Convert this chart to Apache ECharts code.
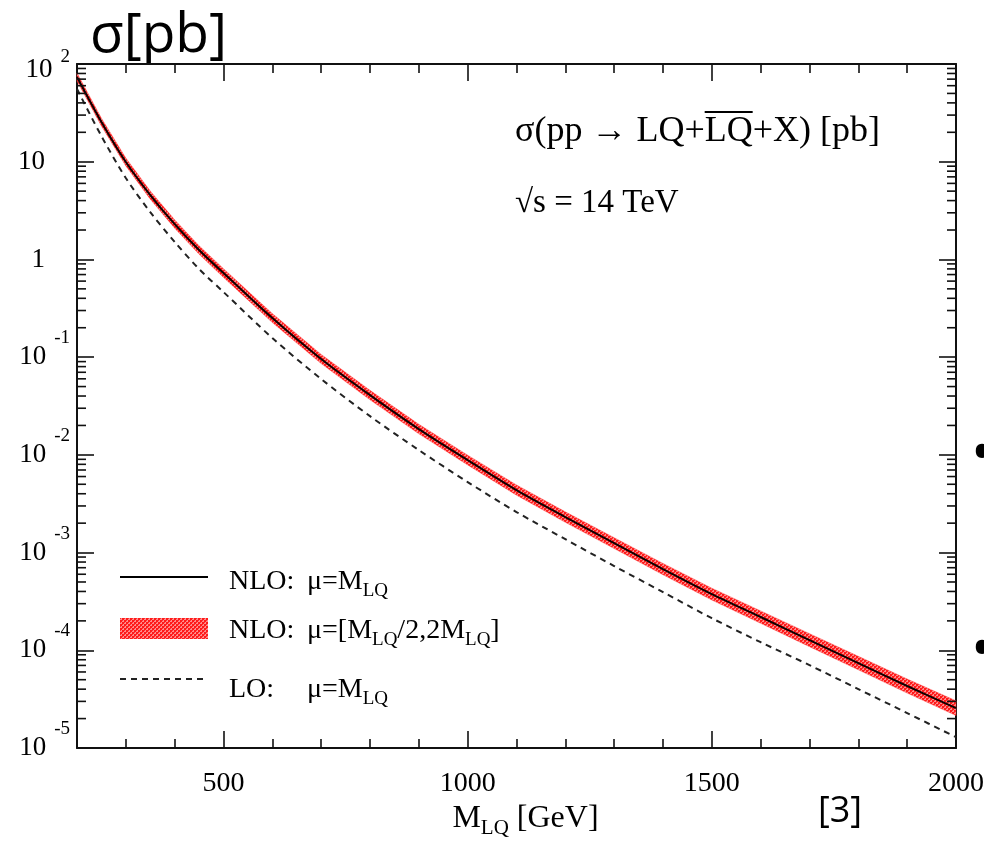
<!DOCTYPE html>
<html><head><meta charset="utf-8">
<script src="https://cdn.jsdelivr.net/npm/echarts@6/dist/echarts.min.js"></script>
<style>html,body{margin:0;padding:0;background:#fff}#c{width:984px;height:842px}</style>
</head><body><div id="c"></div>
<script>
// ---- data ----
const masses  = [200, 250, 300, 350, 400, 450, 500, 600, 700, 800, 900, 1000, 1100, 1200, 1300, 1400, 1500, 1600, 1700, 1800, 1900, 2000];
const nlo     = [73.6, 25.5, 9.93, 4.56, 2.30, 1.25, 0.726, 0.251, 0.0957, 0.0409, 0.01837, 8.85e-3, 4.36e-3, 2.31e-3, 1.25e-3, 6.78e-4, 3.76e-4, 2.19e-4, 1.27e-4, 7.39e-5, 4.31e-5, 2.56e-5];
const nloUp   = [80.7, 27.9, 10.9, 5.02, 2.54, 1.38, 0.805, 0.279, 0.1067, 0.0457, 0.02056, 9.93e-3, 4.92e-3, 2.61e-3, 1.42e-3, 7.74e-4, 4.32e-4, 2.53e-4, 1.48e-4, 8.67e-5, 5.08e-5, 3.04e-5];
const nloDown = [67.1, 23.2, 9.06, 4.14, 2.09, 1.13, 0.655, 0.226, 0.0859, 0.0366, 0.01641, 7.89e-3, 3.87e-3, 2.04e-3, 1.10e-3, 5.93e-4, 3.27e-4, 1.89e-4, 1.09e-4, 6.31e-5, 3.65e-5, 2.15e-5];
const lo      = [55.5, 18.3, 6.81, 3.05, 1.51, 0.798, 0.464, 0.157, 0.0597, 0.0249, 0.01119, 5.27e-3, 2.60e-3, 1.37e-3, 7.28e-4, 3.94e-4, 2.13e-4, 1.21e-4, 7.05e-5, 4.01e-5, 2.28e-5, 1.29e-5];

const xRange = [200, 2000];
const xMajorTicks = [500, 1000, 1500, 2000];
const xMinorTicks = [300, 400, 600, 700, 800, 900, 1100, 1200, 1300, 1400, 1600, 1700, 1800, 1900];
const yDecadeExps = [-5, -4, -3, -2, -1, 0, 1, 2];
const yMinorMultipliers = [2, 3, 4, 5, 6, 7, 8, 9];
const yMinorTicks = [];
yDecadeExps.slice(0, -1).forEach(e => yMinorMultipliers.forEach(k => yMinorTicks.push(k * Math.pow(10, e))));

const SERIF = '"Liberation Serif", "Times New Roman", serif';
const SANS = '"Open Sans", "Noto Sans", sans-serif';
const INK = '#111';

// speckled red fill like the hatched band
const pc = document.createElement('canvas');
pc.width = 4; pc.height = 4;
const pctx = pc.getContext('2d');
pctx.fillStyle = '#ff8c8c'; pctx.fillRect(0, 0, 4, 4);
pctx.fillStyle = '#ff1a1a'; pctx.fillRect(0, 0, 2, 2); pctx.fillRect(2, 2, 2, 2);
pctx.fillStyle = '#ff3030'; pctx.fillRect(2, 0, 1, 1); pctx.fillRect(0, 2, 1, 1);
const bandFill = {image: pc, repeat: 'repeat'};

const chart = echarts.init(document.getElementById('c'), null, {renderer: 'canvas'});

function xAxisDef(pos, ticks, len, main) {
  return {
    type: 'value', min: xRange[0], max: xRange[1], position: pos,
    axisLine: {show: main, onZero: false, lineStyle: {color: INK, width: 2}},
    axisTick: {show: true, inside: true, length: len, customValues: ticks, lineStyle: {color: INK, width: 1.6}},
    axisLabel: (main && pos === 'bottom') ? {show: true, customValues: xMajorTicks, margin: 22,
      fontSize: 28, fontFamily: SERIF, color: '#000', formatter: v => String(v)} : {show: false},
    splitLine: {show: false}
  };
}
const xAxes = [
  xAxisDef('bottom', xMajorTicks, 17, true),
  xAxisDef('bottom', xMinorTicks, 9, false),
  xAxisDef('top', xMajorTicks, 17, true),
  xAxisDef('top', xMinorTicks, 9, false)
];
xAxes[0].name = '{m|M}{s|LQ}{m| [GeV]}';
xAxes[0].nameLocation = 'middle';
xAxes[0].nameGap = 49;
xAxes[0].nameTextStyle = {
  padding: [0, 0, 0, 18],
  rich: {
    m: {fontSize: 32, fontFamily: SERIF, color: '#000'},
    s: {fontSize: 21, fontFamily: SERIF, color: '#000', padding: [20, 0, 0, 0]}
  }
};

function yAxisDef(pos, main) {
  return {
    type: 'log', logBase: 10, min: 1e-5, max: 100, interval: 1, position: pos,
    axisLine: {show: true, onZero: false, lineStyle: {color: INK, width: 2}},
    axisTick: {show: true, inside: true, length: 17, lineStyle: {color: INK, width: 1.6}},
    axisLabel: main ? {
      show: true, margin: 7, color: '#000',
      formatter: v => {
        const e = Math.round(Math.log10(v));
        if (e === 2) return '{t|10}{u|2}';
        if (e === 1) return '{b|10}{e|}';
        if (e === 0) return '{b|1}{e|}';
        return '{b|10}{s|' + e + '}';
      },
      rich: {
        b: {fontSize: 27, fontFamily: SERIF, color: '#000'},
        s: {fontSize: 19, fontFamily: SERIF, color: '#000', padding: [0, 0, 38, 8]},
        t: {fontSize: 27, fontFamily: SERIF, color: '#000', padding: [12, 0, 0, 0]},
        u: {fontSize: 19, fontFamily: SERIF, color: '#000', padding: [0, 0, 14, 8]},
        e: {width: 25}
      }
    } : {show: false},
    splitLine: {show: false}
  };
}

// legend drawn as graphic items
const subRich = {
  a: {fontSize: 28, fontFamily: SERIF, fill: '#000'},
  s: {fontSize: 19, fontFamily: SERIF, fill: '#000', padding: [18, 0, 0, 0]}
};
function txt(x, y, text) {
  return {type: 'text', x: x, y: y, silent: true,
    style: {text: text, rich: subRich, verticalAlign: 'middle', align: 'left'}};
}

// overline position for the second "LQ"
const ANN_FONT = '36px "Liberation Serif"';
const mc = document.createElement('canvas').getContext('2d');
mc.font = ANN_FONT;
const annX = 515;
const olX = annX + mc.measureText('σ(pp → LQ+').width;
const olW = mc.measureText('LQ').width;

const option = {
  animation: false,
  backgroundColor: '#fff',
  grid: {left: 77, right: 28, top: 64, bottom: 94, containLabel: false, outerBoundsMode: 'none'},
  xAxis: xAxes,
  yAxis: [yAxisDef('left', true), yAxisDef('right', false)],
  series: [
    {
      type: 'custom', name: 'NLO band', xAxisIndex: 0, yAxisIndex: 0, silent: true, z: 1,
      data: masses.map((m, i) => [m, nloDown[i], nloUp[i]]),
      encode: {x: 0, y: [1, 2]},
      renderItem: (params, api) => {
        if (params.dataIndex !== 0) return null;
        const top = masses.map((m, i) => api.coord([m, nloUp[i]]));
        const bot = masses.map((m, i) => api.coord([m, nloDown[i]])).reverse();
        return {type: 'polygon', shape: {points: top.concat(bot)},
          style: {fill: bandFill, stroke: 'rgba(255,70,70,0.45)', lineWidth: 1}};
      }
    },
    {
      type: 'line', name: 'LO', xAxisIndex: 0, yAxisIndex: 0, z: 3,
      data: masses.map((m, i) => [m, lo[i]]), smooth: 0.3, showSymbol: false,
      lineStyle: {color: '#222', width: 2, type: [6, 5]}
    },
    {
      type: 'line', name: 'NLO', xAxisIndex: 0, yAxisIndex: 0, z: 4,
      data: masses.map((m, i) => [m, nlo[i]]), smooth: 0.3, showSymbol: false,
      lineStyle: {color: '#100000', width: 2}
    },
    {
      type: 'custom', name: 'yMinorTicks', xAxisIndex: 0, yAxisIndex: 0, silent: true, z: 6, clip: false,
      data: yMinorTicks.map(v => [xRange[0], v]),
      encode: {x: 0, y: 1},
      renderItem: (params, api) => {
        const v = yMinorTicks[params.dataIndex];
        const l = api.coord([xRange[0], v]);
        const r = api.coord([xRange[1], v]);
        return {type: 'group', children: [
          {type: 'line', shape: {x1: l[0], y1: l[1], x2: l[0] + 9, y2: l[1]}, style: {stroke: INK, lineWidth: 1.6}},
          {type: 'line', shape: {x1: r[0] - 9, y1: r[1], x2: r[0], y2: r[1]}, style: {stroke: INK, lineWidth: 1.6}}
        ]};
      }
    }
  ],
  graphic: [
    {type: 'text', x: 90, y: 36, silent: true,
      style: {text: 'σ[pb]', font: '55px ' + SANS, fill: '#000', verticalAlign: 'middle'}},
    {type: 'text', x: annX, y: 132, silent: true,
      style: {text: 'σ(pp → LQ+LQ+X) [pb]', font: ANN_FONT, fill: '#000', verticalAlign: 'middle'}},
    {type: 'line', silent: true, shape: {x1: olX, y1: 112, x2: olX + olW, y2: 112}, style: {stroke: '#000', lineWidth: 1.8}},
    {type: 'text', x: annX, y: 203, silent: true,
      style: {text: '√s = 14 TeV', font: '33px "Liberation Serif"', fill: '#000', verticalAlign: 'middle'}},
    // legend
    {type: 'line', silent: true, shape: {x1: 120, y1: 577, x2: 208, y2: 577}, style: {stroke: '#000', lineWidth: 2}},
    {type: 'rect', silent: true, shape: {x: 120, y: 618, width: 88, height: 21}, style: {fill: bandFill}},
    {type: 'line', silent: true, shape: {x1: 120, y1: 679, x2: 208, y2: 679}, style: {stroke: '#222', lineWidth: 2, lineDash: [6, 5]}},
    txt(229, 582, '{a|NLO:}'),
    txt(307, 582, '{a|μ=M}{s|LQ}'),
    txt(229, 631, '{a|NLO:}'),
    txt(307, 631, '{a|μ=[M}{s|LQ}{a|/2,2M}{s|LQ}{a|]}'),
    txt(229, 690, '{a|LO:}'),
    txt(307, 690, '{a|μ=M}{s|LQ}'),
    // slide residue
    {type: 'text', x: 840, y: 812, silent: true,
      style: {text: '[3]', font: '36px ' + SANS, fill: '#000', align: 'center', verticalAlign: 'middle'}},
    {type: 'text', x: 982, y: 456, silent: true,
      style: {text: '•', font: '60px ' + SANS, fill: '#000', align: 'center', verticalAlign: 'middle'}},
    {type: 'text', x: 982, y: 652, silent: true,
      style: {text: '•', font: '60px ' + SANS, fill: '#000', align: 'center', verticalAlign: 'middle'}}
  ]
};
chart.setOption(option);
</script>
</body></html>
